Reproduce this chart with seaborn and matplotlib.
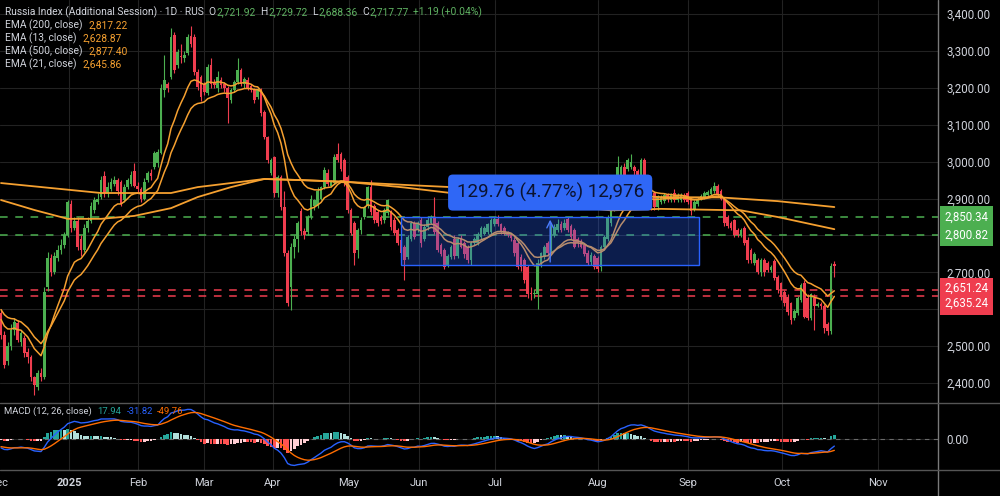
import numpy as np
import pandas as pd
import matplotlib
matplotlib.use("Agg")
import matplotlib.pyplot as plt
import matplotlib.transforms as mtransforms
from matplotlib.patches import Rectangle
from matplotlib.lines import Line2D
import seaborn as sns

# ==============================
# 1. DATOS
# ==============================
opens = [2590, 2530, 2460, 2500, 2545, 2563, 2511, 2522, 2485, 2470, 2416, 2390, 2428, 2416, 2660, 2740, 2700, 2740, 2760, 2775,
         2800, 2885, 2820, 2840, 2790, 2760, 2820, 2840, 2870, 2890, 2905, 2960, 2915, 2925, 2940, 2950, 2945, 2895, 2930, 2940,
         2975, 2935, 2925, 2900, 2950, 2970, 2985, 2995, 3023, 3195, 3210, 3230, 3343, 3262, 3287, 3280, 3294, 3340, 3337, 3243,
         3229, 3210, 3186, 3262, 3216, 3200, 3222, 3210, 3200, 3166, 3195, 3216, 3248, 3210, 3222, 3205, 3195, 3175, 3195, 3134,
         3067, 2970, 3012, 2915, 2958, 2877, 2752, 2660, 2770, 2790, 2866, 2812, 2810, 2850, 2880, 2880, 2900, 2930, 2970, 2935,
         2942, 3020, 3020, 3005, 2958, 2869, 2834, 2760, 2815, 2850, 2880, 2931, 2880, 2863, 2850, 2843, 2860, 2863, 2842, 2815,
         2788, 2768, 2741, 2790, 2834, 2815, 2842, 2790, 2823, 2835, 2850, 2834, 2775, 2760, 2720, 2741, 2790, 2745, 2790, 2780,
         2770, 2733, 2780, 2780, 2796, 2805, 2810, 2810, 2830, 2845, 2830, 2820, 2810, 2800, 2787, 2780, 2742, 2733, 2714, 2645,
         2640, 2640, 2725, 2741, 2780, 2760, 2800, 2815, 2830, 2820, 2845, 2825, 2815, 2790, 2785, 2775, 2752, 2728, 2745, 2738,
         2714, 2768, 2790, 2833, 2870, 2930, 2960, 2985, 2980, 2985, 2985, 2975, 2965, 3005, 2960, 2942, 2915, 2877, 2890, 2893,
         2910, 2895, 2915, 2896, 2895, 2910, 2915, 2901, 2870, 2885, 2898, 2905, 2910, 2912, 2920, 2935, 2920, 2900, 2850, 2835,
         2842, 2815, 2800, 2820, 2788, 2760, 2725, 2733, 2700, 2733, 2725, 2706, 2730, 2687, 2670, 2647, 2633, 2617, 2575, 2590,
         2625, 2670, 2630, 2575, 2630, 2610, 2615, 2610, 2560, 2540, 2721.92]
highs = [2600, 2540, 2510, 2560, 2575, 2570, 2545, 2530, 2495, 2475, 2420, 2435, 2440, 2660, 2755, 2750, 2755, 2775, 2790, 2810,
         2895, 2895, 2850, 2850, 2800, 2830, 2850, 2890, 2905, 2915, 2960, 2975, 2945, 2955, 2960, 2955, 2950, 2940, 2955, 2975,
         2996, 2945, 2930, 2955, 2975, 2980, 3030, 3035, 3210, 3290, 3215, 3363, 3350, 3305, 3320, 3300, 3345, 3367, 3345, 3250,
         3235, 3215, 3265, 3280, 3225, 3245, 3230, 3215, 3205, 3200, 3220, 3280, 3255, 3230, 3228, 3210, 3200, 3200, 3200, 3140,
         3070, 3010, 3015, 2965, 2965, 2920, 2760, 2780, 2800, 2840, 2875, 2820, 2855, 2910, 2900, 2930, 2935, 2985, 2980, 2950,
         3020, 3050, 3025, 3010, 2965, 2875, 2840, 2820, 2850, 2880, 2935, 2950, 2885, 2870, 2855, 2875, 2900, 2870, 2850, 2820,
         2795, 2775, 2800, 2840, 2840, 2840, 2850, 2830, 2850, 2855, 2905, 2840, 2780, 2765, 2750, 2775, 2800, 2795, 2800, 2785,
         2775, 2785, 2795, 2810, 2825, 2825, 2835, 2848, 2850, 2855, 2835, 2825, 2812, 2805, 2795, 2785, 2750, 2740, 2720, 2660,
         2655, 2735, 2755, 2775, 2785, 2830, 2830, 2845, 2840, 2845, 2850, 2830, 2820, 2795, 2790, 2780, 2760, 2755, 2750, 2745,
         2775, 2800, 2855, 2880, 2965, 3015, 2990, 2995, 3010, 3020, 2990, 2980, 3010, 3010, 2965, 2950, 2920, 2910, 2910, 2915,
         2915, 2915, 2925, 2915, 2915, 2915, 2920, 2905, 2895, 2905, 2912, 2920, 2922, 2930, 2945, 2940, 2925, 2905, 2855, 2840,
         2845, 2820, 2820, 2825, 2795, 2765, 2755, 2740, 2740, 2740, 2730, 2720, 2735, 2692, 2675, 2652, 2640, 2620, 2600, 2635,
         2670, 2680, 2640, 2645, 2640, 2620, 2620, 2615, 2565, 2725, 2729.72]
lows = [2520, 2440, 2450, 2490, 2530, 2510, 2500, 2470, 2455, 2405, 2368, 2380, 2405, 2410, 2650, 2690, 2695, 2730, 2750, 2765,
        2795, 2810, 2815, 2760, 2745, 2755, 2810, 2835, 2860, 2885, 2900, 2905, 2905, 2920, 2935, 2910, 2880, 2890, 2925, 2935,
        2930, 2915, 2890, 2895, 2945, 2950, 2980, 2985, 3020, 3175, 3190, 3225, 3240, 3255, 3268, 3270, 3290, 3310, 3235, 3195,
        3165, 3180, 3180, 3200, 3200, 3190, 3200, 3190, 3105, 3160, 3190, 3210, 3205, 3200, 3195, 3190, 3160, 3170, 3125, 3060,
        2995, 2965, 2905, 2905, 2870, 2745, 2610, 2598, 2740, 2755, 2800, 2790, 2800, 2845, 2870, 2875, 2895, 2925, 2935, 2930,
        2940, 3000, 2975, 2935, 2860, 2800, 2720, 2740, 2805, 2845, 2875, 2855, 2835, 2825, 2830, 2835, 2855, 2815, 2800, 2775,
        2745, 2680, 2735, 2785, 2790, 2810, 2770, 2785, 2815, 2830, 2805, 2755, 2745, 2708, 2715, 2735, 2735, 2740, 2765, 2740,
        2725, 2720, 2775, 2775, 2790, 2800, 2805, 2805, 2825, 2825, 2805, 2800, 2795, 2785, 2745, 2710, 2705, 2670, 2630, 2625,
        2630, 2602, 2715, 2735, 2745, 2755, 2795, 2810, 2810, 2815, 2810, 2790, 2765, 2770, 2765, 2745, 2720, 2720, 2710, 2700,
        2705, 2760, 2785, 2825, 2865, 2925, 2955, 2955, 2975, 2980, 2965, 2940, 2960, 2935, 2905, 2870, 2870, 2870, 2885, 2888,
        2890, 2890, 2890, 2890, 2890, 2890, 2885, 2855, 2865, 2880, 2895, 2900, 2905, 2908, 2915, 2905, 2895, 2825, 2820, 2815,
        2795, 2795, 2795, 2775, 2725, 2725, 2720, 2695, 2690, 2690, 2700, 2700, 2680, 2645, 2625, 2610, 2585, 2560, 2570, 2585,
        2620, 2575, 2570, 2570, 2544, 2605, 2600, 2536, 2530, 2533, 2688.36]
closes = [2530, 2450, 2500, 2545, 2565, 2517, 2536, 2481, 2470, 2416, 2395, 2427, 2416, 2647, 2740, 2700, 2745, 2760, 2775, 2800,
          2890, 2820, 2840, 2770, 2760, 2820, 2840, 2880, 2895, 2900, 2950, 2915, 2930, 2945, 2950, 2920, 2885, 2930, 2950, 2965,
          2935, 2925, 2900, 2945, 2970, 2960, 3023, 3025, 3200, 3220, 3200, 3338, 3248, 3297, 3283, 3290, 3338, 3320, 3243, 3202,
          3175, 3190, 3256, 3210, 3208, 3230, 3208, 3200, 3172, 3194, 3216, 3248, 3213, 3225, 3200, 3195, 3167, 3195, 3132, 3067,
          3005, 3004, 2915, 2958, 2877, 2752, 2617, 2770, 2790, 2834, 2812, 2800, 2850, 2900, 2895, 2920, 2930, 2977, 2940, 2945,
          3012, 3005, 2980, 2942, 2868, 2806, 2752, 2815, 2842, 2877, 2930, 2863, 2843, 2833, 2840, 2870, 2896, 2822, 2806, 2780,
          2752, 2733, 2795, 2834, 2796, 2834, 2779, 2823, 2842, 2850, 2810, 2760, 2750, 2715, 2745, 2769, 2745, 2790, 2770, 2750,
          2733, 2780, 2790, 2805, 2820, 2820, 2830, 2842, 2845, 2830, 2812, 2805, 2800, 2793, 2752, 2715, 2715, 2680, 2640, 2640,
          2645, 2725, 2752, 2769, 2752, 2823, 2823, 2830, 2815, 2835, 2815, 2795, 2770, 2780, 2770, 2750, 2725, 2748, 2715, 2710,
          2768, 2795, 2850, 2870, 2958, 2985, 2985, 2960, 3005, 3000, 2975, 2950, 3005, 2942, 2915, 2877, 2877, 2904, 2905, 2910,
          2898, 2910, 2896, 2910, 2910, 2896, 2890, 2866, 2890, 2900, 2908, 2915, 2918, 2925, 2935, 2910, 2900, 2834, 2825, 2820,
          2800, 2802, 2815, 2780, 2733, 2733, 2750, 2700, 2733, 2700, 2706, 2715, 2684, 2652, 2633, 2617, 2592, 2570, 2595, 2630,
          2665, 2580, 2575, 2640, 2610, 2615, 2610, 2550, 2540, 2716.58, 2717.77]

ema200_bars = [0, 10, 20, 30, 40, 51, 59, 69, 79, 90, 104, 121, 135, 150, 173, 183, 198, 222, 233, 250]
ema200_vals = [2896, 2869, 2845, 2845, 2853, 2874, 2904, 2931, 2953, 2950, 2945, 2930, 2915, 2900, 2877, 2868, 2872, 2868, 2850, 2817]
ema500_bars = [0, 30, 51, 59, 69, 79, 90, 104, 121, 135, 165, 183, 198, 216, 233, 250]
ema500_vals = [2942, 2915, 2915, 2931, 2942, 2953, 2950, 2945, 2937, 2931, 2918, 2910, 2904, 2903, 2893, 2877]

# valores iniciales de las medias cortas y del MACD al borde izquierdo
ema13_seed, ema21_seed = 2579, 2606
ema12_seed, ema26_seed, signal_seed = 2575, 2610, -30

month_labels = ["Dec", "2025", "Feb", "Mar", "Apr", "May", "Jun", "Jul", "Aug", "Sep", "Oct", "Nov"]
month_bars = [-0.6, 20.4, 41.1, 60.9, 81.6, 104.4, 125.4, 148.2, 179.1, 206.1, 234.3, 263.1]
price_ticks = [2400, 2500, 2600, 2700, 2800, 2900, 3000, 3100, 3200, 3300, 3400]
hidden_ticks = [2600, 2800]  # tapadas por las etiquetas de nivel

green_levels = [2850.34, 2800.82]
red_levels = [2651.24, 2635.24]

range_start, range_end = 120, 209.5
range_low, range_high = 2720.58, 2850.34
range_text = "129.76 (4.77%) 12,976"

legend_rows = [("EMA (200, close)", "2,817.22"), ("EMA (13, close)", "2,628.87"),
               ("EMA (500, close)", "2,877.40"), ("EMA (21, close)", "2,645.86")]

# ==============================
# 2. CALCULOS
# ==============================
df = pd.DataFrame({"open": opens, "high": highs, "low": lows, "close": closes})
df["bar"] = np.arange(len(df))


def ema(values, span, seed):
    s = pd.Series([seed] + list(values)).ewm(span=span, adjust=False).mean()
    return s.iloc[1:].to_numpy()


df["ema13"] = ema(closes, 13, ema13_seed)
df["ema21"] = ema(closes, 21, ema21_seed)
df["macd"] = ema(closes, 12, ema12_seed) - ema(closes, 26, ema26_seed)
df["signal"] = ema(df["macd"], 9, signal_seed)
df["hist"] = df["macd"] - df["signal"]

# ==============================
# 3. GRAFICO
# ==============================
sns.set_theme(style="dark")
plt.rcParams["font.family"] = ["Roboto", "DejaVu Sans"]

BG = "#000000"
TXT = "#d1d4dc"
GRID = "#222222"
UP = "#4caf50"
DOWN = "#ef3d4f"
ORANGE = "#f5a030"

fig = plt.figure(figsize=(10, 4.96), dpi=100, facecolor=BG)
ax = fig.add_axes([0, 1 - 403 / 496, 0.938, 403 / 496])
axm = fig.add_axes([0, 1 - 470 / 496, 0.938, 67 / 496])

xlim = (-0.3, 281.1)
for a in (ax, axm):
    a.set_facecolor(BG)
    a.set_xlim(*xlim)
    a.set_xticks(month_bars[1:])
    a.set_xticklabels([])
    a.grid(True, color=GRID, lw=0.8)
    a.tick_params(axis="both", length=0, colors=TXT)
    a.yaxis.tick_right()
    for sp in a.spines.values():
        sp.set_visible(False)

ax.set_ylim(2346, 3438)
ax.set_yticks(price_ticks)
ax.set_yticklabels(["" if p in hidden_ticks else f"{p:,.2f}" for p in price_ticks], fontsize=8.3, color=TXT)
ax.tick_params(axis="y", pad=6)

# velas
cols = np.where(df["close"] >= df["open"], UP, DOWN)
ax.vlines(df["bar"], df["low"], df["high"], colors=cols, lw=0.8, zorder=3)
body = (df["close"] - df["open"]).abs().clip(lower=2.5)
ax.bar(df["bar"], body, bottom=df[["open", "close"]].min(axis=1), width=0.75, color=cols, lw=0, zorder=4)

# medias moviles
sns.lineplot(x=df["bar"], y=df["ema13"], ax=ax, color=ORANGE, lw=1.1, zorder=5)
sns.lineplot(x=df["bar"], y=df["ema21"], ax=ax, color=ORANGE, lw=1.1, zorder=5)
sns.lineplot(x=ema200_bars, y=ema200_vals, ax=ax, color=ORANGE, lw=1.3, zorder=5)
sns.lineplot(x=ema500_bars, y=ema500_vals, ax=ax, color=ORANGE, lw=1.3, zorder=5)
ax.set_xlabel("")
ax.set_ylabel("")

# niveles horizontales
blend = mtransforms.blended_transform_factory(ax.transAxes, ax.transData)
for lv in green_levels:
    ax.axhline(lv, color=UP, ls=(0, (5, 5)), lw=1.1, zorder=2)
    ax.text(1.007, lv, f"{lv:,.2f}", transform=blend, ha="left", va="center", fontsize=8.3, color="white",
            bbox=dict(boxstyle="square,pad=0.38", fc=UP, ec="none"), zorder=10, clip_on=False)
for lv in red_levels:
    ax.axhline(lv, color=DOWN, ls=(0, (5, 5)), lw=1.1, zorder=2)
ax.text(1.007, red_levels[1], "\n".join(f"{lv:,.2f}" for lv in red_levels), transform=blend, ha="left",
        va="center", fontsize=8.3, color="white", linespacing=1.2,
        bbox=dict(boxstyle="square,pad=0.38", fc=DOWN, ec="none"), zorder=10, clip_on=False)

# caja de rango de precios
ax.add_patch(Rectangle((range_start, range_low), range_end - range_start, range_high - range_low,
                       fc="#2962ff", alpha=0.3, ec="none", zorder=6))
ax.add_patch(Rectangle((range_start, range_low), range_end - range_start, range_high - range_low,
                       fill=False, ec="#2962ff", lw=1, zorder=6))
mid = (range_start + range_end) / 2
ax.annotate("", xy=(mid, range_high), xytext=(mid, range_low),
            arrowprops=dict(arrowstyle="->", color="#4a7dff", lw=1), zorder=7)
ax.annotate(range_text, xy=(mid, range_high), xytext=(0, 17.5), textcoords="offset points",
            ha="center", va="center", fontsize=13.5, color="#0b1330",
            bbox=dict(boxstyle="round,pad=0.45,rounding_size=0.25", fc="#2f67f6", ec="none"), zorder=8)

# MACD
hist = df["hist"].to_numpy()
hcols = []
for i, h in enumerate(hist):
    prev = hist[i - 1] if i > 0 else h
    if h >= 0:
        hcols.append("#26a69a" if h >= prev else "#b2dfdb")
    else:
        hcols.append("#ff5252" if h < prev else "#ffcdd2")
axm.bar(df["bar"], hist, width=0.75, color=hcols, lw=0, zorder=3)
sns.lineplot(x=df["bar"], y=df["macd"], ax=axm, color="#2962ff", lw=1.0, zorder=4)
sns.lineplot(x=df["bar"], y=df["signal"], ax=axm, color="#ff6d00", lw=1.0, zorder=4)
axm.axhline(0, color="#6a6a6a", ls=(0, (4, 4)), lw=0.8, zorder=2)
axm.set_ylim(-128, 150)
axm.set_yticks([0])
axm.set_yticklabels(["0.00"], fontsize=8.3, color=TXT)
axm.tick_params(axis="y", pad=6)
axm.set_xlabel("")
axm.set_ylabel("")

# etiquetas de meses
bt = mtransforms.blended_transform_factory(axm.transData, fig.transFigure)
for lab, b in zip(month_labels, month_bars):
    axm.text(b, 1 - 483 / 496, lab, transform=bt, ha="center", va="center", fontsize=8, color=TXT,
             fontweight="bold" if lab == "2025" else "normal", clip_on=False)

# separadores
fig.add_artist(Line2D([0.938, 0.938], [0, 1], transform=fig.transFigure, color="#7a7a7a", lw=1))
for yy in (403, 470):
    fig.add_artist(Line2D([0, 1], [1 - yy / 496] * 2, transform=fig.transFigure, color="#555555", lw=1))


# leyendas de texto (piezas encadenadas)
def row(target, x, y, parts, size):
    prev = fig.text(x, y, parts[0][0], color=parts[0][1], fontsize=size, ha="left", va="center")
    for txt, col, gap in parts[1:]:
        prev = target.annotate(txt, xy=(1, 0.5), xycoords=prev, xytext=(gap, 0), textcoords="offset points",
                               ha="left", va="center", color=col, fontsize=size, annotation_clip=False, zorder=10)


VAL_G = "#5fb262"
row(ax, 5 / 1000, 1 - 12 / 496, [("Russia Index (Additional Session) · 1D · RUS", TXT, 0),
                                  ("O", TXT, 3.5), ("2,721.92", VAL_G, 0.3), ("H", TXT, 3.5), ("2,729.72", VAL_G, 0.3),
                                  ("L", TXT, 3.5), ("2,688.36", VAL_G, 0.3), ("C", TXT, 3.5), ("2,717.77", VAL_G, 0.3),
                                  ("+1.19 (+0.04%)", VAL_G, 3.5)], 7.4)
for k, (lab, val) in enumerate(legend_rows):
    row(ax, 5 / 1000, 1 - (25 + 13.1 * k) / 496, [(lab, TXT, 0), (val, ORANGE, 4.5)], 7.4)

row(axm, 4 / 1000, 1 - 411 / 496, [("MACD (12, 26, close)", TXT, 0), ("17.94", "#26a69a", 4),
                                   ("-31.82", "#2962ff", 4), ("-49.76", "#ff6d00", 3)], 6.8)

fig.savefig("out.png", dpi=100, facecolor=BG)
